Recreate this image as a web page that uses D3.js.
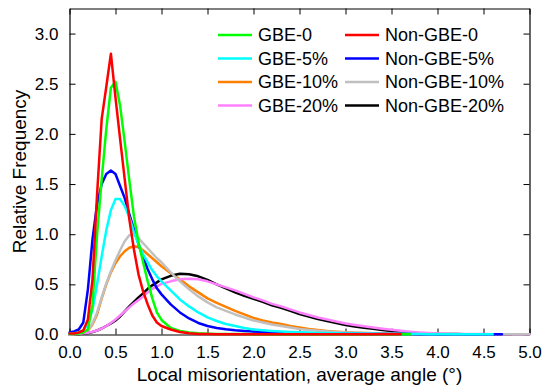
<!DOCTYPE html>
<html>
<head>
<meta charset="utf-8">
<script src="https://cdn.jsdelivr.net/npm/d3@7"></script>
<style>
  html, body { margin: 0; padding: 0; background: #fff; }
  svg { display: block; font-family: "Liberation Sans", Arial, sans-serif; }
</style>
</head>
<body>
<svg id="chart" width="544" height="389"></svg>
<script>
// Local misorientation angle (degrees) at which each frequency is sampled
const angles = [
  0, 0.05, 0.1, 0.15, 0.2, 0.25, 0.3, 0.35, 0.4, 0.45,
  0.5, 0.55, 0.6, 0.65, 0.7, 0.75, 0.8, 0.85, 0.9, 0.95,
  1.0, 1.1, 1.2, 1.3, 1.4, 1.5, 1.6, 1.7, 1.8, 1.9,
  2.0, 2.1, 2.2, 2.3, 2.4, 2.5, 2.6, 2.7, 2.8, 2.9,
  3.0, 3.1, 3.2, 3.3, 3.4, 3.5, 3.6, 3.7, 3.8, 3.9,
  4.0, 4.1, 4.2, 4.3, 4.4, 4.5, 4.6, 4.7, 4.8, 4.9, 5.0
];

// Relative frequency per sample (null = beyond the measured range)
const gbe0 = [
  0.005, 0.005, 0.01, 0.02, 0.05, 0.3, 1.0, 1.55, 2.05, 2.46,
  2.52, 2.28, 1.92, 1.54, 1.18, 0.92, 0.72, 0.53, 0.36, 0.22,
  0.145, 0.065, 0.035, 0.02, 0.012, 0.008, 0.006, 0.005, 0.004, 0.004,
  0.003, 0.003, 0.003, 0.003, 0.002, 0.002, 0.002, 0.002, 0.002, 0.002,
  0.002, 0.002, 0.002, 0.002, 0.002, 0.002, 0.002, 0.002, null, null,
  null, null, null, null, null, null, null, null, null, null, null
];
const gbe5 = [
  0.01, 0.012, 0.02, 0.04, 0.1, 0.25, 0.5, 0.78, 1.04, 1.24,
  1.35, 1.35, 1.28, 1.17, 1.02, 0.9, 0.8, 0.72, 0.64, 0.58,
  0.53, 0.44, 0.35, 0.28, 0.22, 0.17, 0.135, 0.105, 0.085, 0.065,
  0.05, 0.042, 0.036, 0.03, 0.026, 0.022, 0.019, 0.016, 0.014, 0.012,
  0.01, 0.009, 0.008, 0.007, 0.006, 0.005, 0.005, 0.004, 0.004, 0.003,
  0.003, 0.003, 0.002, 0.002, 0.002, 0.002, 0.002, null, null, null, null
];
const gbe10 = [
  0, 0.003, 0.008, 0.02, 0.04, 0.1, 0.2, 0.36, 0.5, 0.62,
  0.71, 0.78, 0.83, 0.865, 0.88, 0.87, 0.84, 0.8, 0.76, 0.72,
  0.68, 0.61, 0.55, 0.48, 0.42, 0.36, 0.315, 0.275, 0.235, 0.2,
  0.165, 0.14, 0.12, 0.105, 0.085, 0.07, 0.055, 0.045, 0.035, 0.028,
  0.022, 0.018, 0.015, 0.012, 0.01, 0.008, 0.007, 0.006, 0.005, 0.004,
  0.004, 0.003, 0.003, 0.002, 0.002, 0.002, null, null, null, null, null
];
const gbe20 = [
  0, 0.003, 0.008, 0.012, 0.018, 0.028, 0.04, 0.06, 0.085, 0.115,
  0.15, 0.19, 0.23, 0.27, 0.31, 0.345, 0.38, 0.42, 0.455, 0.48,
  0.505, 0.53, 0.55, 0.555, 0.55, 0.53, 0.5, 0.47, 0.44, 0.405,
  0.37, 0.34, 0.305, 0.28, 0.25, 0.22, 0.195, 0.17, 0.15, 0.13,
  0.11, 0.095, 0.082, 0.07, 0.058, 0.047, 0.037, 0.028, 0.02, 0.014,
  0.01, 0.008, 0.006, 0.005, 0.004, 0.004, 0.003, 0.003, 0.002, 0.002, 0.002
];
const nonGbe0 = [
  0.01, 0.01, 0.02, 0.04, 0.15, 0.55, 1.4, 2.15, 2.47, 2.8,
  2.36, 1.95, 1.55, 1.15, 0.85, 0.6, 0.43, 0.3, 0.19, 0.12,
  0.085, 0.05, 0.025, 0.012, 0.006, 0.004, 0.003, 0.003, 0.002, 0.002,
  0.002, 0.002, 0.002, 0.002, 0.002, 0.002, 0.002, 0.002, 0.002, 0.002,
  0.002, 0.002, 0.002, 0.002, 0.002, 0.002, 0.002, null, null, null,
  null, null, null, null, null, null, null, null, null, null, null
];
const nonGbe5 = [
  0.02, 0.03, 0.05, 0.12, 0.45, 0.95, 1.3, 1.5, 1.6, 1.635,
  1.6, 1.48, 1.36, 1.2, 1.05, 0.9, 0.77, 0.65, 0.55, 0.46,
  0.4, 0.3, 0.22, 0.16, 0.115, 0.085, 0.065, 0.052, 0.042, 0.035,
  0.03, 0.026, 0.022, 0.019, 0.016, 0.014, 0.012, 0.011, 0.01, 0.009,
  0.008, 0.007, 0.006, 0.006, 0.005, 0.005, 0.004, 0.004, 0.003, 0.003,
  0.003, 0.003, 0.002, 0.002, 0.002, 0.002, 0.002, 0.002, null, null, null
];
const nonGbe10 = [
  0, 0.003, 0.008, 0.02, 0.045, 0.11, 0.22, 0.37, 0.51, 0.63,
  0.74, 0.84, 0.93, 0.99, 1.0, 0.96, 0.91, 0.86, 0.81, 0.76,
  0.72, 0.62, 0.53, 0.45, 0.38, 0.32, 0.27, 0.235, 0.2, 0.17,
  0.14, 0.12, 0.1, 0.085, 0.07, 0.055, 0.045, 0.037, 0.03, 0.025,
  0.02, 0.017, 0.014, 0.012, 0.01, 0.008, 0.007, 0.006, 0.005, 0.005,
  0.004, 0.004, 0.003, 0.003, 0.003, 0.003, 0.002, 0.002, 0.002, 0.002, 0.002
];
const nonGbe20 = [
  0, 0, 0.005, 0.01, 0.015, 0.025, 0.04, 0.06, 0.085, 0.11,
  0.14, 0.18, 0.23, 0.28, 0.325, 0.37, 0.41, 0.455, 0.49, 0.52,
  0.55, 0.585, 0.605, 0.6, 0.58, 0.545, 0.5, 0.46, 0.42, 0.385,
  0.355, 0.325, 0.29, 0.265, 0.235, 0.205, 0.18, 0.155, 0.135, 0.115,
  0.095, 0.08, 0.068, 0.057, 0.046, 0.036, 0.027, 0.02, 0.013, 0.009,
  0.006, 0.005, 0.004, 0.003, 0.003, 0.002, 0.002, 0.002, 0.002, null, null
];

const seriesNames = ["GBE-0", "GBE-5%", "GBE-10%", "GBE-20%",
                     "Non-GBE-0", "Non-GBE-5%", "Non-GBE-10%", "Non-GBE-20%"];
const seriesValues = [gbe0, gbe5, gbe10, gbe20, nonGbe0, nonGbe5, nonGbe10, nonGbe20];
const seriesColors = ["#00ff00", "#00ffff", "#ff8000", "#ff80ff",
                      "#ff0000", "#0000ff", "#c0c0c0", "#000000"];
// painting order, back to front
const drawOrder = [2, 7, 3, 6, 5, 1, 0, 4];

const xTicks = [0, 0.5, 1.0, 1.5, 2.0, 2.5, 3.0, 3.5, 4.0, 4.5, 5.0];
const yTicks = [0, 0.5, 1.0, 1.5, 2.0, 2.5, 3.0];

const svg = d3.select("#chart");
const plotLeft = 69.5, plotRight = 529.5, plotTop = 8.5, plotBottom = 334.5;

const x = d3.scaleLinear().domain([0, 5]).range([plotLeft, plotRight]);
const y = d3.scaleLinear().domain([0, 3.25]).range([plotBottom, plotTop]);

const tickFont = "17px";
const tickLen = 6;

// bottom axis with labels
const gx = svg.append("g").attr("transform", `translate(0,${plotBottom})`)
  .call(d3.axisBottom(x).tickValues(xTicks).tickFormat(d3.format(".1f"))
    .tickSizeInner(-tickLen).tickSizeOuter(0).tickPadding(11));
// left axis with labels
const gy = svg.append("g").attr("transform", `translate(${plotLeft},0)`)
  .call(d3.axisLeft(y).tickValues(yTicks).tickFormat(d3.format(".1f"))
    .tickSizeInner(-tickLen).tickSizeOuter(0).tickPadding(11));
// mirrored top and right axes, ticks only
const gt = svg.append("g").attr("transform", `translate(0,${plotTop})`)
  .call(d3.axisTop(x).tickValues(xTicks).tickFormat("")
    .tickSizeInner(-tickLen).tickSizeOuter(0));
const gr = svg.append("g").attr("transform", `translate(${plotRight},0)`)
  .call(d3.axisRight(y).tickValues(yTicks).tickFormat("")
    .tickSizeInner(-tickLen).tickSizeOuter(0));

[gx, gy, gt, gr].forEach(g => {
  g.select(".domain").attr("stroke", "#000").attr("stroke-width", 1.2);
  g.selectAll(".tick line").attr("stroke", "#000").attr("stroke-width", 1);
  g.selectAll(".tick text").attr("fill", "#000")
    .style("font-size", tickFont)
    .style("font-family", "'Liberation Sans', Arial, sans-serif");
});

// curves
const line = d3.line()
  .defined(d => d[1] !== null)
  .x(d => x(d[0]))
  .y(d => y(d[1]))
  .curve(d3.curveLinear);

const plot = svg.append("g");
drawOrder.forEach(i => {
  const pts = angles.map((a, k) => [a, seriesValues[i][k]]);
  plot.append("path")
    .attr("d", line(pts))
    .attr("fill", "none")
    .attr("stroke", seriesColors[i])
    .attr("stroke-width", 2.5)
    .attr("stroke-linejoin", "round")
    .attr("stroke-linecap", "round");
});

// axis titles
svg.append("text")
  .attr("x", (plotLeft + plotRight) / 2)
  .attr("y", 381)
  .attr("text-anchor", "middle")
  .style("font-size", "19px")
  .text("Local misorientation, average angle (°)");

svg.append("text")
  .attr("transform", `translate(26,${(plotTop + plotBottom) / 2}) rotate(-90)`)
  .attr("text-anchor", "middle")
  .style("font-size", "19px")
  .text("Relative Frequency");

// legend: two columns of four entries
const legend = svg.append("g");
seriesNames.forEach((name, i) => {
  const col = Math.floor(i / 4), row = i % 4;
  const lx = col === 0 ? 218 : 345;
  const ly = 35 + row * 23.5;
  legend.append("line")
    .attr("x1", lx).attr("x2", lx + 34)
    .attr("y1", ly).attr("y2", ly)
    .attr("stroke", seriesColors[i]).attr("stroke-width", 2.5);
  legend.append("text")
    .attr("x", lx + 40).attr("y", ly)
    .attr("dy", "0.36em")
    .style("font-size", "18px")
    .text(name);
});
</script>
</body>
</html>
